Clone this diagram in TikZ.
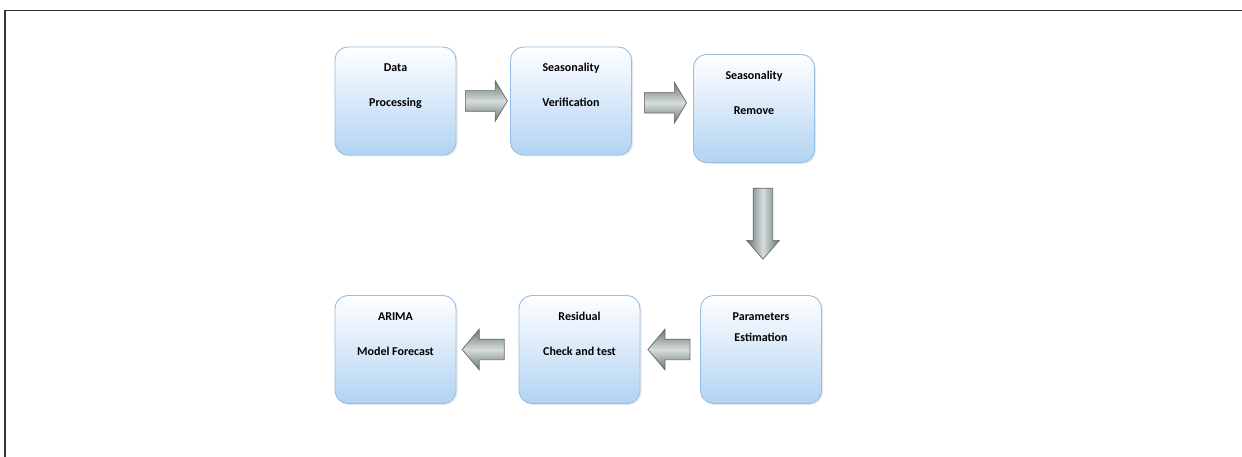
\documentclass[tikz,border=0pt]{standalone}
\usepackage{fontspec}
\setmainfont{Carlito}
\usepackage{xcolor}
\usepackage{tikz}
\usetikzlibrary{positioning,calc,shapes.arrows,shadows}
\definecolor{boxline}{RGB}{150,190,228}
\definecolor{boxblue}{RGB}{178,211,243}
\definecolor{arrowdark}{RGB}{104,118,118}
\definecolor{arrowlight}{RGB}{214,220,220}
\newcommand{\StageText}[3]{\parbox[t][108pt][t]{121pt}{\centering\rule{0pt}{25pt}#1\\[#3]#2}}

\begin{document}
\begin{tikzpicture}[x=1pt,y=-1pt,
  stage/.style={draw=boxline, line width=0.9pt, rounded corners=13pt,
    top color=white, bottom color=boxblue, inner sep=0pt,
    font=\bfseries\fontsize{12}{14}\selectfont,
    drop shadow={opacity=0.18, shadow xshift=1.5pt, shadow yshift=-1.5pt}},
  flow/.style={single arrow, draw=black!60, line width=0.7pt,
    single arrow head extend=10pt, single arrow tip angle=110,
    inner sep=10pt, minimum height=42pt,
    shade, shading=axis, top color=arrowdark, bottom color=arrowdark,
    middle color=arrowlight}]
\useasboundingbox (0,0) rectangle (1242,457);
\draw[line width=1.6pt, black!80] (5,457) -- (5,10.5) -- (1242,10.5);

% top row
\node[stage] (dp) at (395.5,101) {\StageText{Data}{Processing}{21pt}};
\node[stage] (sv) at (571,101) {\StageText{Seasonality}{Verification}{21pt}};
\node[stage] (sr) at (754,108.5) {\StageText{Seasonality}{Remove}{21pt}};

% bottom row
\node[stage] (pe) at (761,349.5) {\StageText{Parameters}{Estimation}{7pt}};
\node[stage] (rc) at (579.5,349.5) {\StageText{Residual}{Check and test}{21pt}};
\node[stage] (am) at (395.5,349.5) {\StageText{ARIMA}{Model Forecast}{21pt}};

% block arrows
\path (dp.east) -- (sv.west) node[midway, flow, single arrow tip angle=118] (a1) {};
\path (sv.east) -- (sr.west) node[midway, flow, single arrow tip angle=118, yshift=2pt] (a2) {};
\path (sr.south) -- (pe.north) node[midway, flow, shape border rotate=270,
  inner sep=9.5pt, single arrow head extend=6.5pt, single arrow tip angle=82,
  minimum height=71pt, shading angle=90, xshift=5.5pt, yshift=11pt] (a3) {};
\path (pe.west) -- (rc.east) node[midway, flow, shape border rotate=180,
  single arrow tip angle=100, xshift=3pt] (a4) {};
\path (rc.west) -- (am.east) node[midway, flow, shape border rotate=180,
  single arrow tip angle=100] (a5) {};
\end{tikzpicture}
\end{document}
